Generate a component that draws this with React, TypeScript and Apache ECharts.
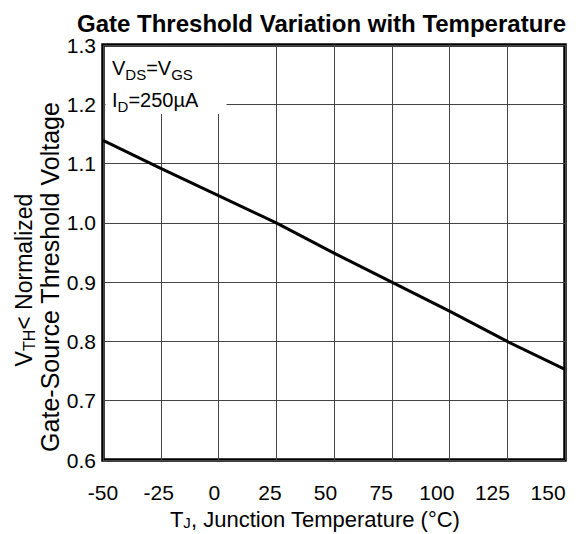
import React, { useEffect, useRef } from "react";
import * as echarts from "echarts";

const temperatures = [-50, -25, 0, 25, 50, 75, 100, 125, 150];
const vthNormalized = [1.139, 1.092, 1.046, 1.0, 0.949, 0.9, 0.851, 0.8, 0.753];
const xTickLabels = [-50, -25, 0, 25, 50, 75, 100, 125, 150];
const yTickLabels = [0.6, 0.7, 0.8, 0.9, 1.0, 1.1, 1.2, 1.3];

const FONT = "Liberation Sans, Arial, sans-serif";

export default function App() {
  const ref = useRef<HTMLDivElement>(null);
  useEffect(() => {
    if (!ref.current) return;
    const chart = echarts.init(ref.current, undefined, { renderer: "svg" });
    chart.setOption({
      animation: false,
      backgroundColor: "#fff",
      textStyle: { fontFamily: FONT },
      title: {
        text: "Gate Threshold Variation with Temperature",
        left: 72,
        top: 6,
        textStyle: { fontFamily: FONT, fontSize: 24, fontWeight: "bold", color: "#000" },
      },
      grid: {
        left: 103,
        right: 23,
        top: 45,
        bottom: 74,
        show: true,
        borderColor: "#000",
        borderWidth: 3.5,
        backgroundColor: "transparent",
      },
      xAxis: [
        {
          type: "value",
          min: -50,
          max: 150,
          interval: 25,
          axisLine: { show: false },
          axisTick: { show: false },
          axisLabel: { show: false },
          splitLine: { show: true, lineStyle: { color: "#444", width: 1 } },
        },
        {
          type: "value",
          position: "bottom",
          min: -50,
          max: 157.6,
          interval: 25,
          axisLine: { show: false },
          axisTick: { show: false },
          splitLine: { show: false },
          axisLabel: {
            margin: 22,
            fontSize: 21,
            color: "#000",
            fontFamily: FONT,
            showMaxLabel: false,
            formatter: (v: number) => (xTickLabels.includes(v) ? String(v) : ""),
          },
        },
      ],
      yAxis: {
        type: "value",
        min: 0.6,
        max: 1.3,
        interval: 0.1,
        axisLine: { show: false },
        axisTick: { show: false },
        splitLine: { show: true, lineStyle: { color: "#444", width: 1 } },
        axisLabel: {
          margin: 7,
          fontSize: 21,
          color: "#000",
          fontFamily: FONT,
          formatter: (v: number) => {
            const r = Math.round(v * 10) / 10;
            return yTickLabels.includes(r) ? r.toFixed(1) : "";
          },
        },
      },
      graphic: [
        {
          type: "rect",
          shape: { x: 105.5, y: 47, width: 121, height: 67 },
          style: { fill: "#fff" },
          z: 50,
        },
        {
          type: "text",
          x: 112,
          y: 67,
          z: 51,
          style: {
            text: "{n|V}{s|DS}{n|=V}{s|GS}",
            verticalAlign: "middle",
            rich: {
              n: { fontSize: 20, fontFamily: FONT, fill: "#000", verticalAlign: "bottom", lineHeight: 22 },
              s: { fontSize: 15, fontFamily: FONT, fill: "#000", verticalAlign: "bottom", lineHeight: 22, padding: [0, 0, -4, 0] },
            },
          },
        },
        {
          type: "text",
          x: 112,
          y: 99,
          z: 51,
          style: {
            text: "{n|I}{s|D}{n|=250µA}",
            verticalAlign: "middle",
            rich: {
              n: { fontSize: 20, fontFamily: FONT, fill: "#000", verticalAlign: "bottom", lineHeight: 22 },
              s: { fontSize: 15, fontFamily: FONT, fill: "#000", verticalAlign: "bottom", lineHeight: 22, padding: [0, 0, -4, 0] },
            },
          },
        },
        {
          type: "text",
          x: 22,
          y: 280,
          rotation: Math.PI / 2,
          style: {
            text: "{n|V}{s|TH}{n|< Normalized}",
            align: "center",
            verticalAlign: "middle",
            rich: {
              n: { fontSize: 23, fontFamily: FONT, fill: "#000", verticalAlign: "bottom", lineHeight: 26 },
              s: { fontSize: 16, fontFamily: FONT, fill: "#000", verticalAlign: "bottom", lineHeight: 26, padding: [0, 0, -2, 0] },
            },
          },
        },
        {
          type: "text",
          x: 50,
          y: 277,
          rotation: Math.PI / 2,
          style: {
            text: "Gate-Source Threshold Voltage",
            align: "center",
            verticalAlign: "middle",
            fontSize: 25,
            fontFamily: FONT,
            fill: "#000",
          },
        },
        {
          type: "text",
          x: 315,
          y: 518,
          style: {
            text: "{n|T}{s|J}{n|, Junction Temperature (°C)}",
            align: "center",
            verticalAlign: "middle",
            rich: {
              n: { fontSize: 22, fontFamily: FONT, fill: "#000", verticalAlign: "bottom", lineHeight: 24 },
              s: { fontSize: 15, fontFamily: FONT, fill: "#000", verticalAlign: "bottom", lineHeight: 24 },
            },
          },
        },
      ],
      series: [
        {
          type: "line",
          xAxisIndex: 0,
          data: temperatures.map((t, i) => [t, vthNormalized[i]]),
          showSymbol: false,
          lineStyle: { color: "#000", width: 3 },
          z: 10,
        },
      ],
    });
    return () => chart.dispose();
  }, []);
  return <div ref={ref} style={{ width: 588, height: 534, position: "absolute", left: 0, top: 0 }} />;
}
